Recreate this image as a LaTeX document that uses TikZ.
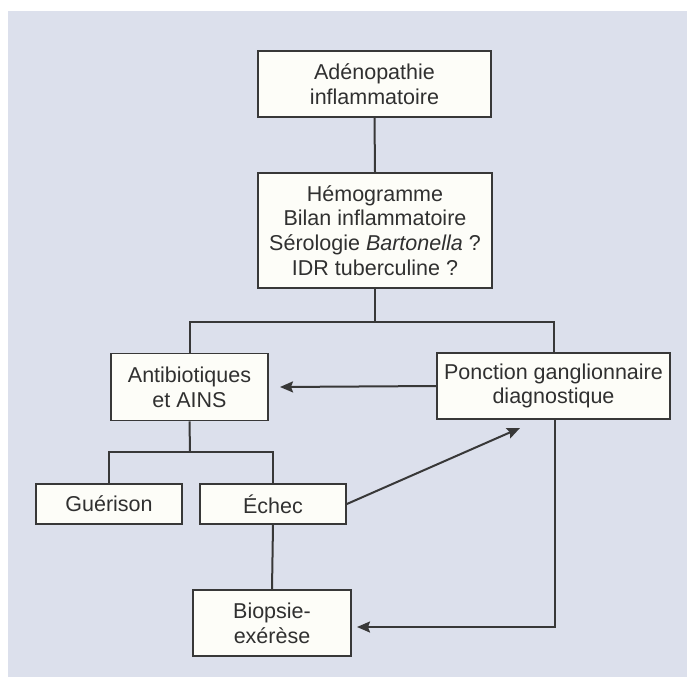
\documentclass[tikz,border=0pt]{standalone}
\usepackage{fontspec}
\setmainfont{Liberation Sans}
\usetikzlibrary{arrows.meta,calc}
\definecolor{panel}{HTML}{DCE0EC}
\definecolor{boxfill}{HTML}{FDFDF8}
\definecolor{ink}{HTML}{383838}
\definecolor{txt}{HTML}{303030}
\tikzset{
  fbox/.style={draw=ink, fill=boxfill, line width=1.7pt, inner sep=0pt, align=center,
    text=txt, font=\fontsize{21.5}{24.7}\selectfont},
  conn/.style={draw=ink, line width=2pt},
  arr/.style={conn, -{Stealth[length=13pt,width=11pt,inset=2pt]}}
}
\begin{document}
\begin{tikzpicture}[x=1pt,y=-1pt]
\useasboundingbox (0,0) rectangle (687,677);
\fill[panel] (8,11) rectangle (687,677);
\node[fbox, minimum width=233pt, minimum height=66pt] (b1) at (374.5,84) {Adénopathie\\inflammatoire};
\node[fbox, minimum width=234pt, minimum height=115pt] (b2) at (375,230.5) {Hémogramme\\Bilan inflammatoire\\Sérologie \textit{Bartonella}~?\\IDR tuberculine~?};
\node[fbox, minimum width=157pt, minimum height=67pt] (anti) at (189.5,387) {Antibiotiques\\et AINS};
\node[fbox, minimum width=233pt, minimum height=66pt] (ponc) at (553.5,386) {Ponction ganglionnaire\\diagnostique};
\node[fbox, minimum width=146pt, minimum height=40pt] (gue) at (109,504) {Guérison};
\node[fbox, minimum width=146pt, minimum height=40pt] (ech) at (273,504) {Échec};
\node[fbox, minimum width=158pt, minimum height=66pt] (bio) at (272,623) {Biopsie-\\exérèse};
\coordinate (br1) at (375,322);
\coordinate (br2) at (190,452);
\coordinate (t1) at (280,387);
\coordinate (t2) at (520,428);
\coordinate (c1) at (555,627);
\coordinate (t3) at (357,627);
\draw[conn] (b1.south) -- (b2.north);
\draw[conn] (b2.south) -- (br1);
\draw[conn] (anti.north) -- (anti.north |- br1) -- (ponc.north |- br1) -- (ponc.north);
\draw[arr] (ponc.west) -- (t1);
\draw[conn] (anti.south) -- (br2);
\draw[conn] (gue.north) -- (gue.north |- br2) -- (ech.north |- br2) -- (ech.north);
\draw[arr] (ech.east) -- (t2);
\draw[conn] (ech.south) -- (bio.north);
\draw[arr] (ponc.south -| c1) -- (c1) -- (t3);
\end{tikzpicture}
\end{document}
